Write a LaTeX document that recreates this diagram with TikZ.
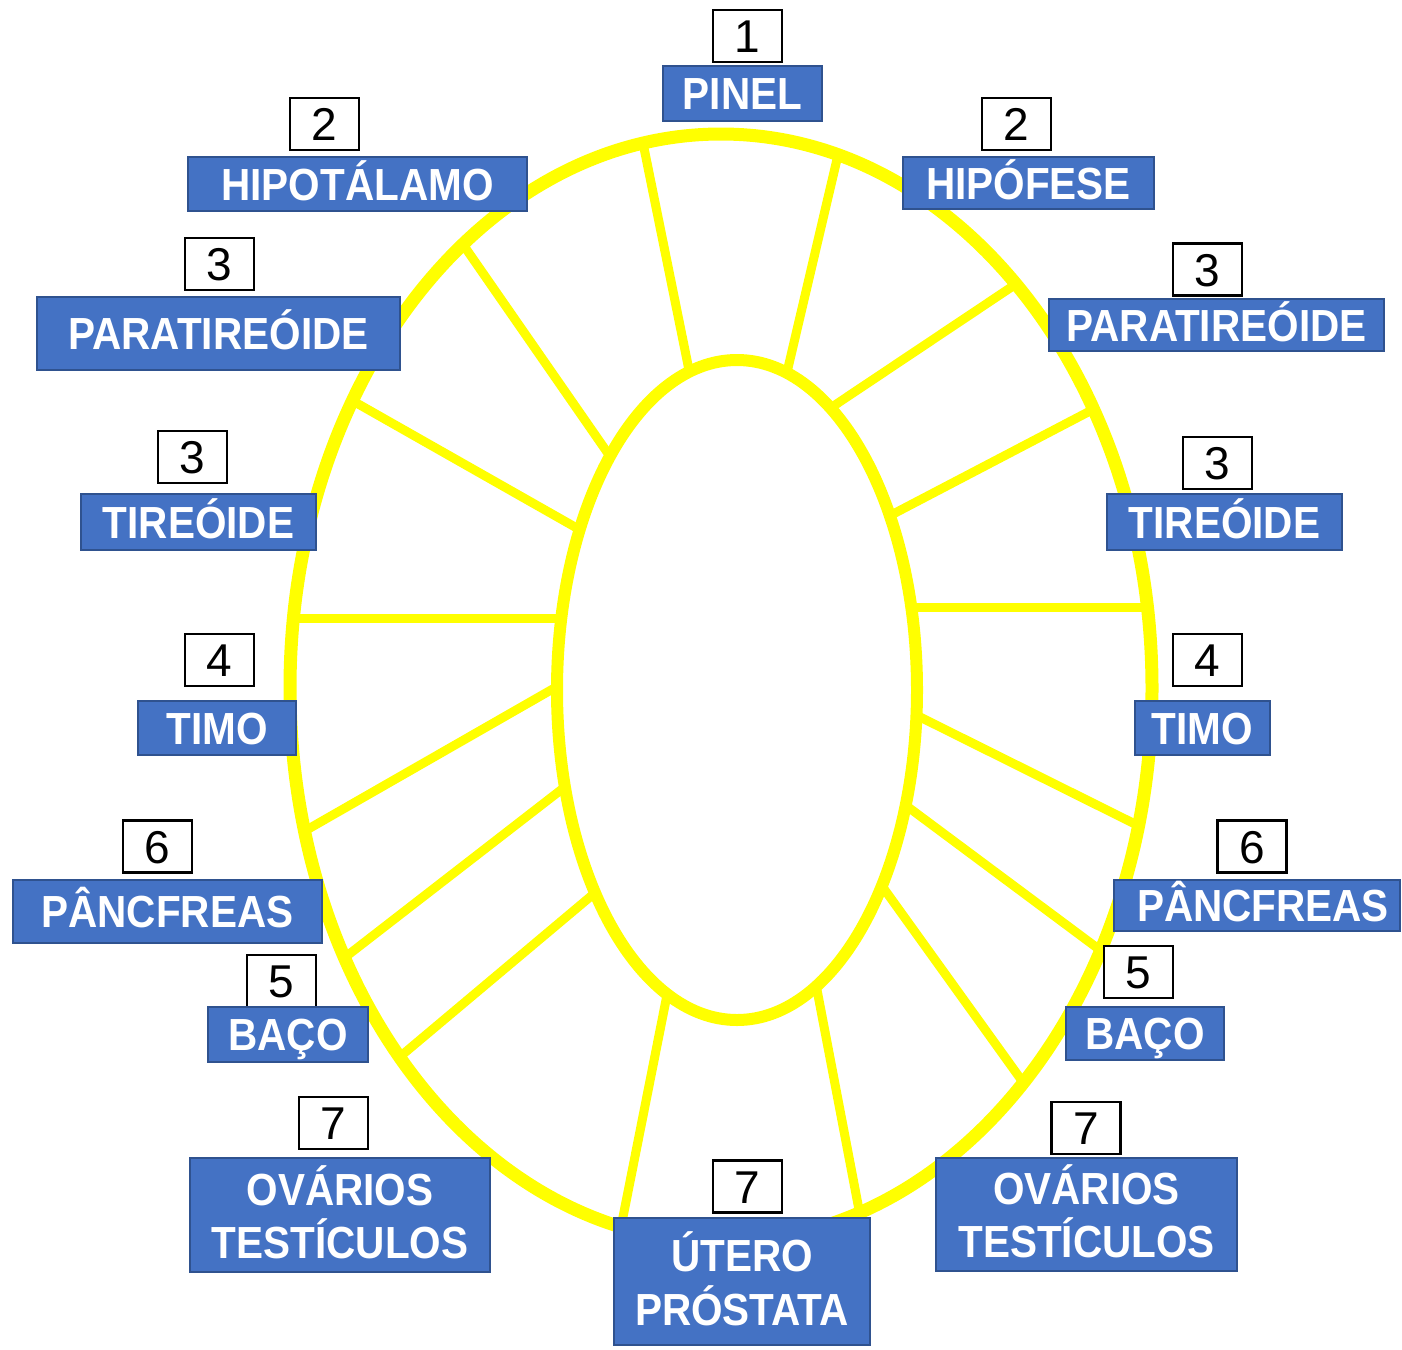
\documentclass[tikz,border=0pt]{standalone}
\usepackage{fontspec}
\setmainfont{Liberation Sans}
\newfontfamily\labfont[FakeStretch=0.9]{Liberation Sans}
\definecolor{boxblue}{HTML}{4472C4}
\definecolor{boxedge}{HTML}{2F528F}
\definecolor{ring}{HTML}{FFFF00}
\tikzset{
  lab/.style={draw=boxedge, line width=2pt, fill=boxblue, inner sep=0pt},
  labtxt/.style={text=white, font=\labfont\bfseries\fontsize{45}{48}\selectfont, inner sep=0pt, text height=32pt, text depth=0pt},
  num/.style={draw=black, line width=2.5pt, fill=white, inner sep=0pt, minimum width=69pt, minimum height=52pt, font=\fontsize{46}{50}\selectfont, text height=33pt, text depth=0pt},
  spoke/.style={draw=ring, line width=9pt, shorten <=-12pt, shorten >=-12pt},
  rim/.style={draw=ring, line width=13pt},
}
\begin{document}
\begin{tikzpicture}[x=1pt,y=-1pt]
\useasboundingbox (0,0) rectangle (1402,1349);
\fill[white] (0,0) rectangle (1402,1349);
% spokes
\foreach \n/\ix/\iy/\ox/\oy in {
 1/690/375/643/143, 2/788/368/838/155, 3/835/405/1022/280, 4/895/513/1092/410,
 5/917/607/1145/607, 6/920/717/1137/825, 7/912/810/1100/950, 8/887/893/1025/1085,
 9/818/995/860/1215, 10/666/1000/622/1222, 11/590/897/402/1055, 12/557/793/348/955,
 13/551/690/310/828, 14/555/618/298/618, 15/575/527/360/405, 16/607/452/462/243}{
  \coordinate (i\n) at (\ix,\iy);
  \coordinate (o\n) at (\ox,\oy);
}
\begin{scope}
  \clip (721,688) ellipse [x radius=431pt, y radius=554pt];
  \foreach \n in {1,...,16} { \draw[spoke] (i\n) -- (o\n); }
\end{scope}
\fill[white] (737,690) ellipse [x radius=180pt, y radius=330pt];
\draw[rim] (721,688) ellipse [x radius=431pt, y radius=554pt];
\draw[rim, line width=12pt] (737,690) ellipse [x radius=180pt, y radius=330pt];
% number boxes
\node[num] (n1) at (747.5,36) {1};
\node[num] (n2l) at (324.5,124) {2};
\node[num] (n2r) at (1016.5,124) {2};
\node[num] (n3la) at (219.5,264) {3};
\node[num] (n3ra) at (1207.5,269.5) {3};
\node[num] (n3lb) at (192.5,457) {3};
\node[num] (n3rb) at (1217.5,463) {3};
\node[num] (n4l) at (219.5,660) {4};
\node[num] (n4r) at (1207.5,660) {4};
\node[num] (n6l) at (157.5,846.5) {6};
\node[num] (n6r) at (1252,846.5) {6};
\node[num] (n5l) at (281.5,981) {5};
\node[num] (n5r) at (1138.5,972) {5};
\node[num] (n7l) at (333.5,1123) {7};
\node[num] (n7r) at (1086,1128) {7};
\node[num] (n7b) at (747.5,1186.5) {7};
% label boxes
\node[lab, minimum width=159pt, minimum height=55pt] (pinel) at (742.5,93.5) {};
\node[labtxt] (pinelt) at (pinel.center) {PINEL};
\node[lab, minimum width=339pt, minimum height=54pt] (hipot) at (357.5,184) {};
\node[labtxt] (hipott) at (hipot.center) {HIPOTÁLAMO};
\node[lab, minimum width=251pt, minimum height=52pt] (hipof) at (1028.5,183) {};
\node[labtxt] (hipoft) at (hipof.center) {HIPÓFESE};
\node[lab, minimum width=363pt, minimum height=73pt] (paral) at (218.5,333.5) {};
\node[labtxt] (paralt) at (paral.center) {PARATIREÓIDE};
\node[lab, minimum width=335pt, minimum height=52pt] (parar) at (1216.5,325) {};
\node[labtxt] (parart) at (parar.center) {PARATIREÓIDE};
\node[lab, minimum width=235pt, minimum height=56pt] (tirel) at (198.5,522) {};
\node[labtxt] (tirelt) at (tirel.center) {TIREÓIDE};
\node[lab, minimum width=235pt, minimum height=56pt] (tirer) at (1224.5,522) {};
\node[labtxt] (tirert) at (tirer.center) {TIREÓIDE};
\node[lab, minimum width=158pt, minimum height=54pt] (timol) at (217,728) {};
\node[labtxt] (timolt) at (timol.center) {TIMO};
\node[lab, minimum width=135pt, minimum height=54pt] (timor) at (1202.5,728) {};
\node[labtxt] (timort) at (timor.center) {TIMO};
\node[lab, minimum width=309pt, minimum height=63pt] (pancl) at (167.5,911.5) {};
\node[labtxt] (panclt) at (pancl.center) {PÂNCFREAS};
\node[lab, minimum width=286pt, minimum height=51pt] (pancr) at (1257,905.5) {};
\node[labtxt] (pancrt) at ([xshift=6pt]pancr.center) {PÂNCFREAS};
\node[lab, minimum width=160pt, minimum height=55pt] (bacol) at (288,1034.5) {};
\node[labtxt] (bacolt) at (bacol.center) {BAÇO};
\node[lab, minimum width=158pt, minimum height=53pt] (bacor) at (1145,1033.5) {};
\node[labtxt] (bacort) at (bacor.center) {BAÇO};
\node[lab, minimum width=300pt, minimum height=114pt] (oval) at (340,1215) {};
\node[labtxt] (ovalt1) at ([yshift=26pt]oval.center) {OVÁRIOS};
\node[labtxt] (ovalt2) at ([yshift=-27pt]oval.center) {TESTÍCULOS};
\node[lab, minimum width=301pt, minimum height=113pt] (ovar) at (1086.5,1214.5) {};
\node[labtxt] (ovart1) at ([yshift=26pt]ovar.center) {OVÁRIOS};
\node[labtxt] (ovart2) at ([yshift=-27pt]ovar.center) {TESTÍCULOS};
\node[lab, minimum width=256pt, minimum height=127pt] (utero) at (742,1281.5) {};
\node[labtxt] (uterot1) at ([yshift=26.5pt]utero.center) {ÚTERO};
\node[labtxt] (uterot2) at ([yshift=-27.5pt]utero.center) {PRÓSTATA};
\end{tikzpicture}
\end{document}
